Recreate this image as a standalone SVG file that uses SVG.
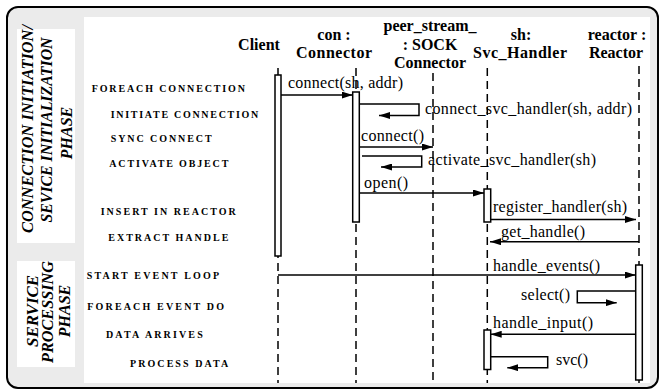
<svg xmlns="http://www.w3.org/2000/svg" width="661" height="391" viewBox="0 0 661 391">
<style>
.hdr{font-family:"Liberation Serif","Times New Roman",serif;font-weight:bold;font-size:16px;text-anchor:middle;fill:#000}
.msg{font-family:"Liberation Serif","Times New Roman",serif;font-size:16px;fill:#000}
.step{font-family:"Liberation Serif","Times New Roman",serif;font-weight:bold;font-size:10px;fill:#000}
.phase{font-family:"Liberation Serif","Times New Roman",serif;font-weight:bold;font-style:italic;font-size:16px;text-anchor:middle;fill:#000}
.life{stroke:#000;stroke-width:1.5;stroke-dasharray:8 5;fill:none}
.act{fill:#fff;stroke:#000;stroke-width:1.5}
.conn{fill:none;stroke:#000;stroke-width:1.5;marker-end:url(#arr)}
</style>
<defs>
<marker id="arr" markerUnits="userSpaceOnUse" markerWidth="11" markerHeight="7" refX="11" refY="3.5" orient="auto">
<path d="M0,0 L11,3.5 L0,7 z" fill="#000"/>
</marker>
</defs>
<rect x="7" y="7" width="651" height="381" rx="11" ry="11" fill="#ebebeb" stroke="#000" stroke-width="2"/>
<rect x="84" y="17" width="566" height="366" fill="#fff"/>
<g id="phase-init">
<rect x="17" y="29" width="58" height="214" fill="#fff"/>
<text class="phase" transform="translate(33,129) rotate(-90)" textLength="208" lengthAdjust="spacingAndGlyphs">CONNECTION INITIATION/</text>
<text class="phase" transform="translate(52,130) rotate(-90)" textLength="185" lengthAdjust="spacingAndGlyphs">SEVICE INITIALIZATION</text>
<text class="phase" transform="translate(72,133) rotate(-90)">PHASE</text>
</g>
<g id="phase-proc">
<rect x="17" y="261" width="58" height="106" fill="#fff"/>
<text class="phase" transform="translate(38,311) rotate(-90)" textLength="72" lengthAdjust="spacingAndGlyphs">SERVICE</text>
<text class="phase" transform="translate(53,312) rotate(-90)" textLength="102" lengthAdjust="spacingAndGlyphs">PROCESSING</text>
<text class="phase" transform="translate(70,311) rotate(-90)">PHASE</text>
</g>
<g id="steps">
<text class="step" x="91.7" y="92.3" textLength="153.3">FOREACH CONNECTION</text>
<text class="step" x="110.7" y="117.7" textLength="147.6">INITIATE CONNECTION</text>
<text class="step" x="110.7" y="141.7" textLength="101">SYNC CONNECT</text>
<text class="step" x="109.3" y="166.7" textLength="119">ACTIVATE OBJECT</text>
<text class="step" x="100.7" y="215" textLength="135">INSERT IN REACTOR</text>
<text class="step" x="108.3" y="241" textLength="120">EXTRACT HANDLE</text>
<text class="step" x="86.7" y="279" textLength="132.3">START EVENT LOOP</text>
<text class="step" x="87.3" y="310" textLength="136.7">FOREACH EVENT DO</text>
<text class="step" x="106" y="338.3" textLength="96.7">DATA ARRIVES</text>
<text class="step" x="130" y="366.7" textLength="98.3">PROCESS DATA</text>
</g>
<g id="client">
<text class="hdr" x="259" y="50">Client</text>
<line class="life" x1="278" y1="68" x2="278" y2="383"/>
<rect class="act" x="275" y="75" width="6" height="181"/>
</g>
<g id="connector">
<text class="hdr" x="334" y="40">con :</text>
<text class="hdr" x="334" y="58" textLength="76">Connector</text>
<line class="life" x1="356" y1="68" x2="356" y2="383"/>
<rect class="act" x="352.7" y="92" width="6.6" height="130"/>
</g>
<g id="peer-stream">
<text class="hdr" x="430" y="31">peer_stream_</text>
<text class="hdr" x="430" y="49.5">: SOCK</text>
<text class="hdr" x="430" y="68">Connector</text>
<line class="life" x1="433" y1="73" x2="433" y2="383"/>
</g>
<g id="svc-handler">
<text class="hdr" x="521" y="40">sh:</text>
<text class="hdr" x="520" y="58" textLength="94">Svc_Handler</text>
<line class="life" x1="487.3" y1="68" x2="487.3" y2="383"/>
<rect class="act" x="484" y="189" width="6.7" height="33"/>
<rect class="act" x="484" y="330" width="6.7" height="39.5"/>
</g>
<g id="reactor">
<text class="hdr" x="617" y="40">reactor :</text>
<text class="hdr" x="616" y="58">Reactor</text>
<line class="life" x1="639" y1="66" x2="639" y2="383"/>
<rect class="act" x="635.7" y="265" width="6.6" height="115"/>
</g>
<g id="connectors">
<path class="conn" d="M281,95 H352.7"/>
<path class="conn" d="M359.3,104 H419 V115.5 H379"/>
<path class="conn" d="M359.3,147 H433"/>
<path class="conn" d="M362,156 H421.7 V167 H381"/>
<path class="conn" d="M359.3,193 H484"/>
<path class="conn" d="M490.7,219.5 H636"/>
<path class="conn" d="M639,241.7 H490"/>
<path class="conn" d="M278,275 H635.7"/>
<path class="conn" d="M635.7,291 H577.3 V302.7 H616.7"/>
<path class="conn" d="M635.7,334.3 H490.7"/>
<path class="conn" d="M490.7,356.7 H547.7 V367.7 H507.3"/>
<text class="msg" x="288" y="88" textLength="115">connect(sh, addr)</text>
<text class="msg" x="425" y="114" textLength="207">connect_svc_handler(sh, addr)</text>
<text class="msg" x="361" y="141" textLength="63">connect()</text>
<text class="msg" x="428" y="165" textLength="168">activate_svc_handler(sh)</text>
<text class="msg" x="364" y="188" textLength="44">open()</text>
<text class="msg" x="493" y="212" textLength="134">register_handler(sh)</text>
<text class="msg" x="501" y="236.5" textLength="84">get_handle()</text>
<text class="msg" x="493" y="270.5" textLength="107">handle_events()</text>
<text class="msg" x="521" y="300" textLength="49">select()</text>
<text class="msg" x="493" y="328" textLength="100">handle_input()</text>
<text class="msg" x="556" y="365">svc()</text>
</g>
</svg>
